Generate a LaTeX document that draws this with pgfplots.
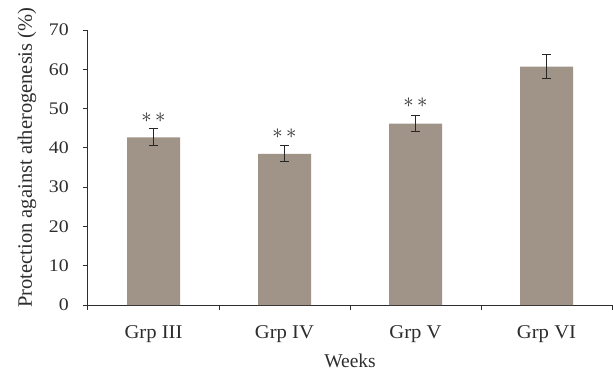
\documentclass[border=0pt]{standalone}
\usepackage{pgfplots}
\pgfplotsset{compat=1.18}
\usepackage{fontspec}
\setmainfont{Liberation Serif}
\newfontfamily\numfont[FakeStretch=1.12]{Liberation Serif}
\newfontfamily\catfont[FakeStretch=1.06]{Liberation Serif}
\definecolor{barfill}{RGB}{160,147,135}
\definecolor{axcol}{RGB}{45,45,45}
\begin{document}
\fontsize{18}{21}\selectfont
\begin{tikzpicture}
\begin{axis}[
  at={(0pt,0pt)}, anchor=origin,
  scale only axis,
  width=524pt, height=275pt,
  xmin=0, xmax=4, ymin=0, ymax=70,
  axis lines=left,
  axis line style={axcol, line width=1pt, -},
  every tick/.style={axcol, line width=1pt},
  tick align=outside,
  xtick={0.5,1.5,2.5,3.5},
  xticklabels={Grp III, Grp IV, Grp V, Grp VI},
  major x tick style={draw=none},
  minor xtick={0,1,2,3,4},
  minor tick length=5pt,
  major tick length=5pt,
  ytick={0,10,...,70},
  /pgf/number format/assume math mode=true,
  xticklabel style={font=\catfont\fontsize{19.5}{22}\selectfont, text=axcol, anchor=base, yshift=-28pt},
  yticklabel style={font=\numfont\fontsize{17.7}{21}\selectfont, text=axcol, anchor=east, inner sep=0pt, xshift=-14pt},
  every axis y label/.style={},
  every axis x label/.style={},
  ybar, bar width=53pt,
  clip=false,
]
\addplot[fill=barfill, draw=none,
  error bars/.cd, y dir=both, y explicit,
  error bar style={black!85, line width=1pt},
  error mark options={rotate=90, mark size=4.5pt, black!85, line width=1pt}]
  coordinates {
  (0.5,42.7) +- (0,2.2)
  (1.5,38.5) +- (0,2.0)
  (2.5,46.2) +- (0,2.0)
  (3.5,60.7) +- (0,3.0)
  };
\node[text=axcol, inner sep=0pt, font=\fontsize{21}{24}\selectfont] at (axis cs:0.5,47.6) {$\ast\,\ast$};
\node[text=axcol, inner sep=0pt, font=\fontsize{21}{24}\selectfont] at (axis cs:1.5,43.6) {$\ast\,\ast$};
\node[text=axcol, inner sep=0pt, font=\fontsize{21}{24}\selectfont] at (axis cs:2.5,51.5) {$\ast\,\ast$};
\node[text=axcol, anchor=base, font=\fontsize{19.5}{22}\selectfont] at ([yshift=-62pt]axis description cs:0.5,0) {Weeks};
\node[text=axcol, anchor=base, rotate=90, font=\fontsize{20.5}{24}\selectfont] at ([xshift=-56pt, yshift=10pt]axis description cs:0,0.5) {Protection against atherogenesis (\%)};
\end{axis}
\pgfresetboundingbox
\path[use as bounding box] (-88pt,-70pt) rectangle (525pt,305pt);
\end{tikzpicture}
\end{document}
